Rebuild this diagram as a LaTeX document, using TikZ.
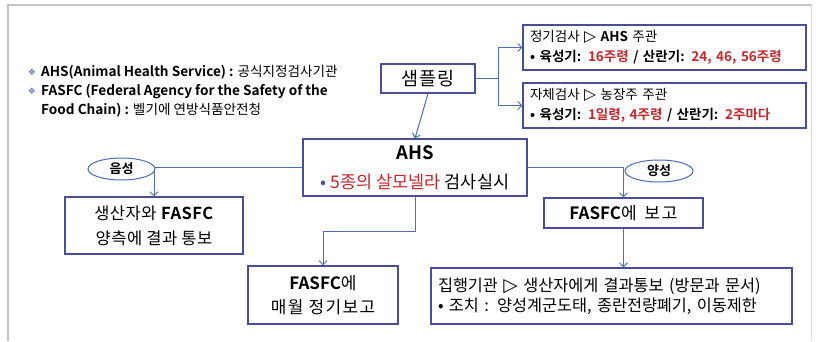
\documentclass[tikz,border=0pt]{standalone}
\usepackage{fontspec}
\setmainfont{Noto Sans CJK KR}[BoldFont={Noto Sans CJK KR Bold}]
\newfontfamily\djv{DejaVu Sans}
\newfontfamily\djvs{DejaVu Sans}[Scale=1.15]
\usetikzlibrary{arrows.meta,shapes.geometric}
\definecolor{boxc}{HTML}{4A4E9A}
\definecolor{linec}{HTML}{4C6CB8}
\definecolor{redc}{HTML}{C8282D}
\definecolor{framec}{HTML}{C4C4C4}
\definecolor{bulc}{HTML}{7080A8}
\newcommand{\tri}{{\djvs ▷}}
\begin{document}
\begin{tikzpicture}[x=1pt,y=-1pt,
  box/.style={draw=boxc, line width=1.1pt, fill=white, inner sep=0pt},
  lbox/.style={box, align=left, inner xsep=7pt},
  conn/.style={draw=linec, line width=1pt, -{Straight Barb[length=4pt,width=8pt]}},
  plain/.style={draw=linec, line width=1pt},
  oval/.style={ellipse, draw=linec, line width=1pt, fill=white, inner sep=0pt, font=\fontsize{13}{15}\selectfont\bfseries},
  legend/.style={anchor=west, inner sep=0pt, font=\fontsize{13.6}{15}\selectfont},
  bul/.style={inner sep=0pt, text=bulc, font=\djv\fontsize{9}{10}\selectfont}
]
\useasboundingbox (0,0) rectangle (816,341);
\fill[white] (0,0) rectangle (816,341);
% frame
\draw[framec, line width=2pt] (8,341) -- (8,5);
\draw[framec, line width=1.2pt] (7,5) -- (812,5);
\draw[framec!60, line width=1pt] (811,5) -- (811,341);

% legend
\node[bul] (b1) at (32,72) {❖};
\node[legend] (l1) at (41,72) {\textbf{AHS(Animal Health Service) :} 공식지정검사기관};
\node[bul] (b2) at (32,91) {❖};
\node[legend] (l2) at (41,91) {\textbf{FASFC (Federal Agency for the Safety of the}};
\node[legend] (l3) at (41,110) {\textbf{Food Chain) :} 벨기에 연방식품안전청};

% boxes
\node[box, minimum width=94pt, minimum height=29pt, font=\fontsize{18.5}{20}\selectfont\addfontfeature{LetterSpace=6}] (samp) at (428,78.5) {샘플링};
\node[lbox, text width=269pt, minimum height=45pt, font=\fontsize{13.5}{20}\selectfont] (t1) at (664.5,47.5)
  {정기검사 \tri{} \textbf{AHS} 주관\\\textbf{• 육성기: \textcolor{redc}{16주령} / 산란기: \textcolor{redc}{24,\ 46,\ 56주령}}};
\node[lbox, text width=269pt, minimum height=45pt, font=\fontsize{13.5}{20}\selectfont] (t2) at (664.5,105.5)
  {자체검사 \tri{} 농장주 주관\\\textbf{• 육성기: \textcolor{redc}{1일령,\ 4주령} / 산란기: \textcolor{redc}{2주마다}}};
\node[box, minimum width=224pt, minimum height=57pt, align=center, font=\fontsize{17.5}{29}\selectfont] (ahs) at (415,167.5)
  {{\fontsize{18.5}{20}\selectfont\textbf{AHS}}\\\textcolor{boxc}{•} \textcolor{redc}{5종의 살모넬라} 검사실시};
\node[box, minimum width=178pt, minimum height=57pt, align=center, font=\fontsize{16.5}{25}\selectfont\addfontfeature{LetterSpace=3}] (left) at (154,225.5)
  {생산자와 \textbf{FASFC}\\양측에 결과 통보};
\node[box, minimum width=159pt, minimum height=30pt, font=\fontsize{17}{20}\selectfont] (rep) at (623.5,213)
  {\textbf{FASFC}에\ \ 보\kern2pt 고};
\node[box, minimum width=150pt, minimum height=58pt, align=center, font=\fontsize{17}{24}\selectfont] (month) at (323,295)
  {\textbf{FASFC}에\\{\addfontfeature{LetterSpace=8}매월 정기보고}};
\node[lbox, text width=347pt, minimum height=56pt, font=\fontsize{16.3}{20}\selectfont] (act) at (611.5,296)
  {집행기관 \tri{} 생산자에게 결과통보 (방문과 문서)\\• 조치 : 양성계군도태, 종란전량폐기, 이동제한};

% connectors
\coordinate (br) at (498,78.5);
\draw[plain] (samp.east) -- (br);
\draw[conn] (br) |- (t1.west);
\draw[conn] (br) |- (t2.west);
\draw[conn] (samp.south) -- (ahs.north);
\draw[conn] (ahs.west) -| (left.north);
\draw[conn] (ahs.east) -| (rep.north);
\draw[conn] (rep.south) -- (rep.south |- act.north);
\draw[conn] (ahs.south) -- ++(0,35) -| (month.north);

% ovals
\node[oval, minimum width=67pt, minimum height=22pt] (neg) at (121.5,169) {음성};
\node[oval, minimum width=68pt, minimum height=22pt] (pos) at (659,171) {양성};
\end{tikzpicture}
\end{document}
